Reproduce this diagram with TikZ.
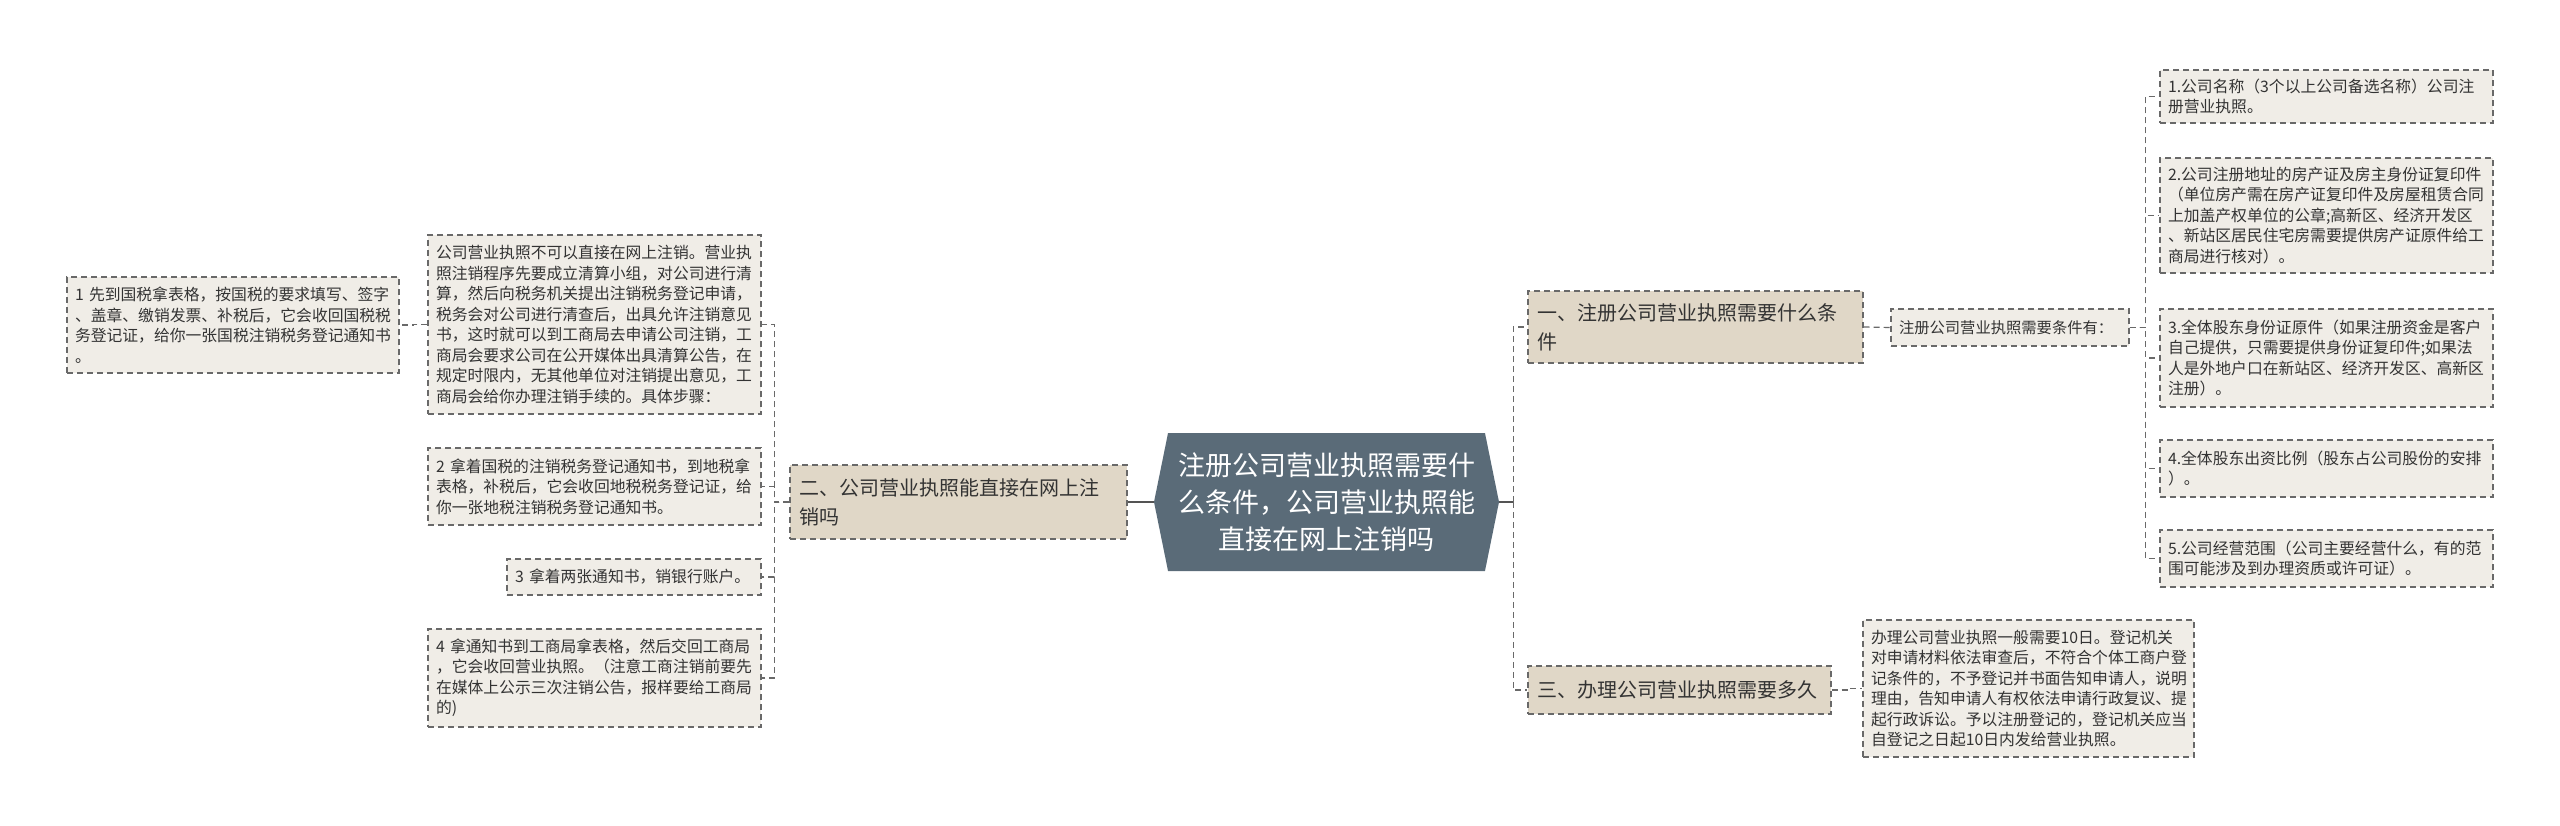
\documentclass[tikz,border=0pt]{standalone}
\usepackage{fontspec}
\setmainfont{Noto Sans CJK SC}
\usetikzlibrary{shapes.symbols}
\definecolor{rootslate}{RGB}{90,107,120}
\definecolor{branchtan}{RGB}{224,215,199}
\definecolor{leafcream}{RGB}{240,237,231}
\definecolor{edgegray}{RGB}{105,105,105}
\definecolor{textgray}{RGB}{51,51,51}

\begin{document}
\begin{tikzpicture}[x=1pt,y=-1pt]

%
% Styles
%
\tikzstyle{root} = [shape=signal,signal to=west and east,signal pointer angle=157,fill=rootslate,text=white,inner sep=0pt,minimum width=345pt,minimum height=138pt,align=center,font=\fontsize{27}{37}\selectfont]
\tikzstyle{branch} = [rectangle,draw=edgegray,fill=branchtan,dash pattern=on 6pt off 4pt,line width=1.2pt,text=textgray,align=left,inner xsep=9pt,inner ysep=0pt,font=\fontsize{20}{29}\selectfont]
\tikzstyle{leaf} = [rectangle,draw=edgegray,fill=leafcream,dash pattern=on 6pt off 4pt,line width=1.2pt,text=textgray,align=left,inner xsep=8pt,inner ysep=0pt,font=\fontsize{15.8}{20.5}\selectfont]
\tikzstyle{link} = [draw=edgegray,dash pattern=on 6pt off 4pt,line width=1.2pt]
\tikzstyle{rootlink} = [draw=edgegray!80!black,line width=2pt]

\useasboundingbox[fill=white] (0,0) rectangle (2560,826);

% left side
\node[leaf,text width=317pt,minimum height=179pt] (steps) at (594.5,324.5) {公司营业执照不可以直接在网上注销。营业执\\照注销程序先要成立清算小组，对公司进行清\\算，然后向税务机关提出注销税务登记申请，\\税务会对公司进行清查后，出具允许注销意见\\书，这时就可以到工商局去申请公司注销，工\\商局会要求公司在公开媒体出具清算公告，在\\规定时限内，无其他单位对注销提出意见，工\\商局会给你办理注销手续的。具体步骤：};
\node[leaf,text width=316pt,minimum height=96pt] (step1) at (233,325) {1~先到国税拿表格，按国税的要求填写、签字\\、盖章、缴销发票、补税后，它会收回国税税\\务登记证，给你一张国税注销税务登记通知书\\。};
\node[leaf,text width=317pt,minimum height=77pt] (step2) at (594.5,486.5) {2~拿着国税的注销税务登记通知书，到地税拿\\表格，补税后，它会收回地税税务登记证，给\\你一张地税注销税务登记通知书。};
\node[leaf,text width=238pt,minimum height=36pt] (step3) at (634,577) {3~拿着两张通知书，销银行账户。};
\node[leaf,text width=317pt,minimum height=98pt] (step4) at (594.5,678) {4~拿通知书到工商局拿表格，然后交回工商局\\，它会收回营业执照。（注意工商注销前要先\\在媒体上公示三次注销公告，报样要给工商局\\的)};
\node[branch,text width=319pt,minimum height=74pt] (online) at (958.5,502) {二、公司营业执照能直接在网上注\\销吗};

% centre
\node[root] (main) at (1326.5,502) {注册公司营业执照需要什\\么条件，公司营业执照能\\直接在网上注销吗};

% right side
\node[branch,text width=317pt,minimum height=72pt] (need) at (1695.5,327) {一、注册公司营业执照需要什么条\\件};
\node[leaf,text width=222pt,minimum height=37pt,font=\fontsize{15.3}{20}\selectfont] (needlist) at (2010,327.5) {注册公司营业执照需要条件有：};
\node[leaf,text width=317pt,minimum height=53pt] (item1) at (2326.5,96.5) {1.公司名称（3个以上公司备选名称）公司注\\册营业执照。};
\node[leaf,text width=317pt,minimum height=115pt] (item2) at (2326.5,215.5) {2.公司注册地址的房产证及房主身份证复印件\\（单位房产需在房产证复印件及房屋租赁合同\\上加盖产权单位的公章;高新区、经济开发区\\、新站区居民住宅房需要提供房产证原件给工\\商局进行核对）。};
\node[leaf,text width=317pt,minimum height=98pt] (item3) at (2326.5,358) {3.全体股东身份证原件（如果注册资金是客户\\自己提供，只需要提供身份证复印件;如果法\\人是外地户口在新站区、经济开发区、高新区\\注册）。};
\node[leaf,text width=317pt,minimum height=57pt] (item4) at (2326.5,468.5) {4.全体股东出资比例（股东占公司股份的安排\\）。};
\node[leaf,text width=317pt,minimum height=57pt] (item5) at (2326.5,558.5) {5.公司经营范围（公司主要经营什么，有的范\\围可能涉及到办理资质或许可证）。};
\node[branch,text width=285pt,minimum height=48pt] (howlong) at (1679.5,690) {三、办理公司营业执照需要多久};
\node[leaf,text width=315pt,minimum height=137pt] (tendays) at (2028.5,688.5) {办理公司营业执照一般需要10日。登记机关\\对申请材料依法审查后，不符合个体工商户登\\记条件的，不予登记并书面告知申请人，说明\\理由，告知申请人有权依法申请行政复议、提\\起行政诉讼。予以注册登记的，登记机关应当\\自登记之日起10日内发给营业执照。};

% connectors
\draw[rootlink] (main.west) -- (online.east);
\draw[link] (online.west) -- ++(-15,0) |- (steps.east);
\draw[link] (online.west) -- ++(-15,0) |- (step2.east);
\draw[link] (online.west) -- ++(-15,0) |- (step3.east);
\draw[link] (online.west) -- ++(-15,0) |- (step4.east);
\draw[link] (steps.west) -- ++(-14,0) |- (step1.east);

\draw[rootlink] (main.east) -- ++(14,0) coordinate (fork);
\draw[link] (fork) |- (need.west);
\draw[link] (fork) |- (howlong.west);
\draw[link] (need.east) -- (needlist.west);
\draw[link] (needlist.east) -- ++(16,0) |- (item1.west);
\draw[link] (needlist.east) -- ++(16,0) |- (item2.west);
\draw[link] (needlist.east) -- ++(16,0) |- (item3.west);
\draw[link] (needlist.east) -- ++(16,0) |- (item4.west);
\draw[link] (needlist.east) -- ++(16,0) |- (item5.west);
\draw[link] (howlong.east) -- ++(16,0) |- (tendays.west);

\end{tikzpicture}
\end{document}
